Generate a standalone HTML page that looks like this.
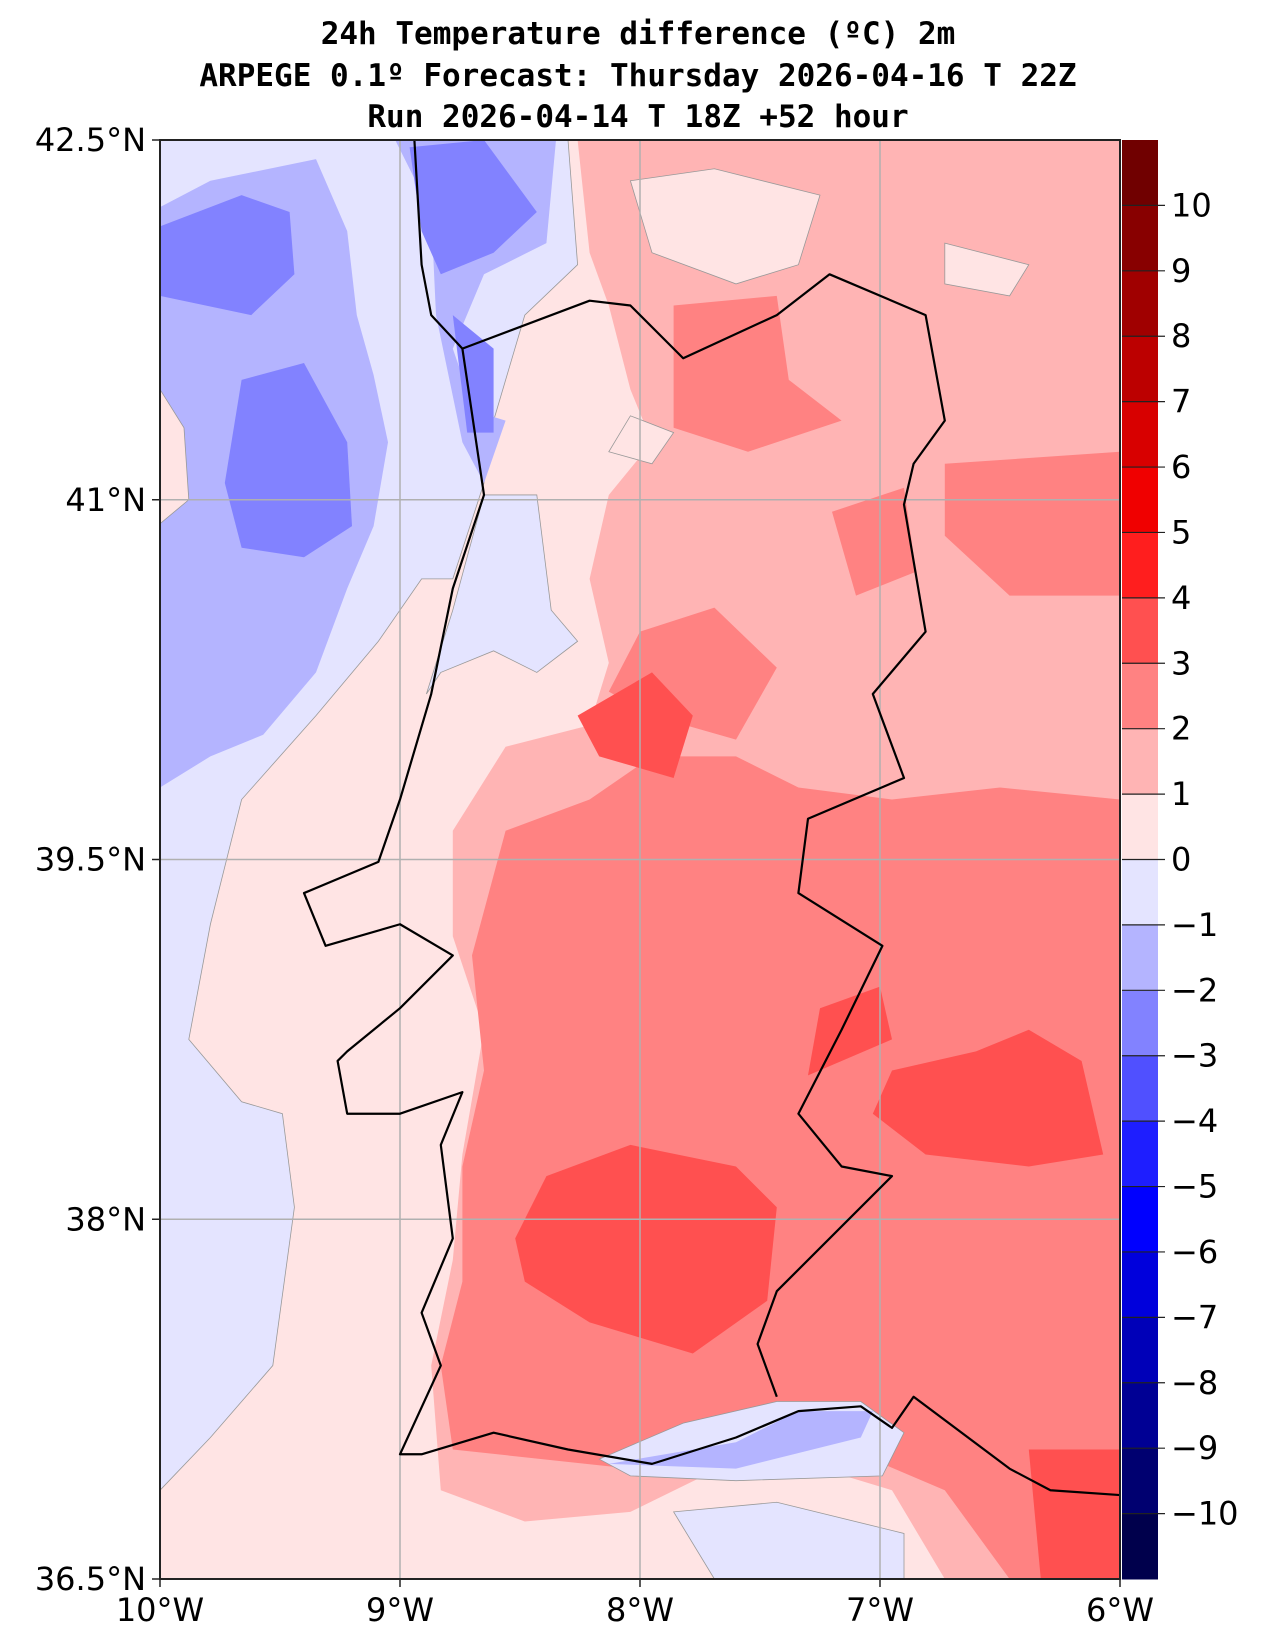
<!DOCTYPE html>
<html><head><meta charset="utf-8"><style>
body{margin:0;background:#fff;}
svg text{font-family:"DejaVu Sans","Liberation Sans",sans-serif;}
</style></head><body>
<svg id="chart" width="1267" height="1646" viewBox="0 0 1267 1646" xmlns="http://www.w3.org/2000/svg">
<g font-weight="bold" font-size="31" text-anchor="middle">
<text x="638" y="44" style="font-family:'DejaVu Sans Mono','Liberation Mono',monospace">24h Temperature difference (ºC) 2m</text>
<text x="638" y="86" style="font-family:'DejaVu Sans Mono','Liberation Mono',monospace">ARPEGE 0.1º Forecast: Thursday 2026-04-16 T 22Z</text>
<text x="638" y="127" style="font-family:'DejaVu Sans Mono','Liberation Mono',monospace">Run 2026-04-14 T 18Z +52 hour</text>
</g>
<defs><clipPath id="mapclip"><rect x="160" y="140" width="960" height="1439"/></clipPath></defs>
<g id="fields" clip-path="url(#mapclip)"></g>
<g id="grid"></g>
<g id="lines" clip-path="url(#mapclip)"></g>
<rect x="160" y="140" width="960" height="1439" fill="none" stroke="#222" stroke-width="2"/>
<g id="axes"></g>
<g id="cbar"></g>
</svg>
<script>
const lonTicks=[-10,-9,-8,-7,-6];
const lonLabels=["10°W","9°W","8°W","7°W","6°W"];
const latTicks=[42.5,41,39.5,38,36.5];
const latLabels=["42.5°N","41°N","39.5°N","38°N","36.5°N"];
const levels=[-11,-10,-9,-8,-7,-6,-5,-4,-3,-2,-1,0,1,2,3,4,5,6,7,8,9,10,11];
const bandColors=["#00004c","#000070","#000094","#0000b8","#0000dc","#0000ff","#1e1eff","#5050ff","#8282ff","#b4b4ff","#e4e4ff","#ffe4e4","#ffb4b4","#ff8282","#ff5050","#ff1e1e","#f00000","#d80000","#bc0000","#a00000","#880000","#700000"];
const cbarTicks=[-10,-9,-8,-7,-6,-5,-4,-3,-2,-1,0,1,2,3,4,5,6,7,8,9,10];
// contour regions: [lower level of band, polygon in lon/lat]
const regionLevels=[0,-1,-1,-2,0,-2,-3,-3,-3,-3,1,0,0,0,2,2,2,2,2,3,3,3,3,3,-1,-2,-1];
const regionShapes=[
[[-10,42.5],[-6,42.5],[-6,36.5],[-10,36.5]],
[[-10,42.5],[-8.30,42.5],[-8.26,41.98],[-8.48,41.77],[-8.61,41.33],[-8.65,41.07],[-8.78,40.67],[-8.91,40.67],[-9.09,40.41],[-9.35,40.1],[-9.66,39.75],[-9.79,39.23],[-9.88,38.75],[-9.66,38.49],[-9.49,38.44],[-9.44,38.05],[-9.53,37.39],[-9.79,37.09],[-10,36.87]],
[[-8.65,41.02],[-8.43,41.02],[-8.37,40.54],[-8.26,40.41],[-8.43,40.28],[-8.61,40.37],[-8.83,40.28],[-8.89,40.19],[-8.78,40.54]],
[[-10,42.22],[-9.79,42.33],[-9.35,42.42],[-9.22,42.12],[-9.18,41.77],[-9.11,41.52],[-9.05,41.24],[-9.11,40.89],[-9.22,40.63],[-9.35,40.28],[-9.57,40.02],[-9.79,39.93],[-10,39.80]],
[[-10,41.46],[-9.9,41.3],[-9.88,41.0],[-10,40.9]],
[[-9.02,42.5],[-8.35,42.5],[-8.39,42.07],[-8.65,41.94],[-8.78,41.63],[-8.69,41.37],[-8.56,41.33],[-8.65,41.07],[-8.74,41.24],[-8.85,41.77],[-8.87,42.2]],
[[-10,42.14],[-9.66,42.27],[-9.46,42.20],[-9.44,41.94],[-9.62,41.77],[-10,41.85]],
[[-9.66,41.50],[-9.40,41.57],[-9.22,41.24],[-9.20,40.89],[-9.40,40.76],[-9.66,40.80],[-9.73,41.07]],
[[-8.96,42.47],[-8.65,42.5],[-8.43,42.20],[-8.61,42.03],[-8.83,41.94],[-8.91,42.12]],
[[-8.78,41.77],[-8.61,41.63],[-8.61,41.28],[-8.72,41.28]],
[[-8.26,42.5],[-6,42.5],[-6,36.5],[-6.73,36.5],[-6.95,36.87],[-7.51,37.04],[-8.04,36.78],[-8.48,36.74],[-8.83,36.87],[-8.87,37.39],[-8.78,37.83],[-8.74,38.27],[-8.65,38.79],[-8.78,39.18],[-8.78,39.62],[-8.56,39.97],[-8.21,40.06],[-8.13,40.32],[-8.21,40.67],[-8.13,41.02],[-7.95,41.24],[-8.04,41.46],[-8.13,41.81],[-8.21,42.03]],
[[-8.04,42.33],[-7.69,42.38],[-7.25,42.27],[-7.34,41.98],[-7.60,41.90],[-7.95,42.03]],
[[-6.73,42.07],[-6.38,41.98],[-6.46,41.85],[-6.73,41.90]],
[[-8.13,41.2],[-7.95,41.15],[-7.86,41.28],[-8.04,41.35]],
[[-8.56,39.62],[-8.21,39.75],[-7.95,39.93],[-7.60,39.93],[-7.34,39.80],[-6.95,39.75],[-6.5,39.8],[-6,39.75],[-6,36.5],[-6.46,36.5],[-6.73,36.87],[-7.34,37.13],[-8.04,36.96],[-8.78,37.04],[-8.83,37.39],[-8.74,37.74],[-8.74,38.22],[-8.65,38.62],[-8.70,39.1]],
[[-7.86,41.81],[-7.43,41.85],[-7.38,41.5],[-7.16,41.33],[-7.55,41.2],[-7.86,41.3]],
[[-6.73,41.15],[-6,41.2],[-6,40.6],[-6.46,40.6],[-6.73,40.85]],
[[-8.0,40.45],[-7.69,40.55],[-7.43,40.3],[-7.6,40.0],[-7.95,40.1],[-8.13,40.2]],
[[-7.2,40.95],[-6.9,41.05],[-6.85,40.7],[-7.1,40.6]],
[[-8.39,38.18],[-8.04,38.31],[-7.60,38.22],[-7.43,38.05],[-7.47,37.66],[-7.78,37.44],[-8.21,37.57],[-8.48,37.74],[-8.52,37.92]],
[[-6.95,38.62],[-6.60,38.70],[-6.38,38.79],[-6.16,38.66],[-6.07,38.27],[-6.38,38.22],[-6.81,38.27],[-7.03,38.44]],
[[-8.26,40.10],[-7.95,40.28],[-7.78,40.10],[-7.86,39.84],[-8.17,39.93]],
[[-6.38,37.04],[-6,37.04],[-6,36.5],[-6.33,36.5]],
[[-7.25,38.88],[-7.0,38.97],[-6.95,38.75],[-7.3,38.6]],
[[-8.17,37.0],[-7.82,37.15],[-7.43,37.24],[-7.08,37.24],[-6.90,37.11],[-6.99,36.93],[-7.60,36.91],[-8.04,36.93]],
[[-8.13,36.98],[-7.60,37.07],[-7.34,37.2],[-7.03,37.2],[-7.08,37.09],[-7.60,36.96]],
[[-7.86,36.78],[-7.43,36.82],[-6.90,36.69],[-6.90,36.5],[-7.69,36.5]]
];
const coast=[[-8.94,42.5],[-8.91,41.98],[-8.87,41.77],[-8.74,41.63],[-8.65,41.02],[-8.78,40.63],[-8.87,40.19],[-9.0,39.75],[-9.09,39.49],[-9.40,39.36],[-9.31,39.14],[-9.0,39.23],[-8.78,39.1],[-9.0,38.88],[-9.22,38.70],[-9.26,38.66],[-9.22,38.44],[-9.0,38.44],[-8.74,38.53],[-8.83,38.31],[-8.78,37.92],[-8.91,37.61],[-8.83,37.39],[-9.0,37.02],[-8.91,37.02],[-8.61,37.11],[-8.30,37.04],[-7.95,36.98],[-7.60,37.09],[-7.34,37.2],[-7.08,37.22],[-6.95,37.13],[-6.86,37.26],[-6.46,36.96],[-6.29,36.87],[-6,36.85]];
const border=[[-8.74,41.63],[-8.21,41.83],[-8.04,41.81],[-7.82,41.59],[-7.43,41.77],[-7.21,41.94],[-6.81,41.77],[-6.73,41.33],[-6.86,41.15],[-6.90,40.98],[-6.81,40.45],[-7.03,40.19],[-6.90,39.84],[-7.30,39.67],[-7.34,39.36],[-6.99,39.14],[-7.16,38.79],[-7.34,38.44],[-7.16,38.22],[-6.95,38.18],[-7.43,37.70],[-7.51,37.48],[-7.43,37.26]];
const X0=160,X1=1120,Y0=140,Y1=1579;
const sx=lon=>X0+(lon+10)/4*(X1-X0);
const sy=lat=>Y0+(42.5-lat)/6*(Y1-Y0);
const NS="http://www.w3.org/2000/svg";
function mk(tag,attrs,parent){const e=document.createElementNS(NS,tag);for(const k in attrs)e.setAttribute(k,attrs[k]);parent.appendChild(e);return e;}
const colorOf=lv=>bandColors[levels.indexOf(lv)];
const fields=document.getElementById('fields');
regionShapes.forEach((pts,i)=>{
 const lv=regionLevels[i];
 const p=mk('polygon',{points:pts.map(q=>sx(q[0])+','+sy(q[1])).join(' '),fill:colorOf(lv),stroke:(lv===0||lv===-1)&&i>0?'#999':'none','stroke-width':0.8},fields);
 
 
});
const lines=document.getElementById('lines');
[coast,border].forEach((arr,i)=>{
 const l=mk('polyline',{points:arr.map(q=>sx(q[0])+','+sy(q[1])).join(' '),fill:'none',stroke:'#000','stroke-width':2.2,'stroke-linejoin':'round'},lines);
 
 
});
const grid=document.getElementById('grid'),axes=document.getElementById('axes');
lonTicks.forEach((v,i)=>{
 const x=sx(v);
 if(i>0&&i<lonTicks.length-1){const g=mk('line',{x1:x,x2:x,y1:Y0,y2:Y1,stroke:'#b0b0b0','stroke-width':1.5},grid);}
 mk('line',{x1:x,x2:x,y1:Y1,y2:Y1+8,stroke:'#222','stroke-width':1.5},axes);
 const t=mk('text',{x:x,y:Y1+42,'font-size':32,'text-anchor':'middle'},axes);t.textContent=lonLabels[i];
 
 
});
latTicks.forEach((v,i)=>{
 const y=sy(v);
 if(i>0&&i<latTicks.length-1){const g=mk('line',{x1:X0,x2:X1,y1:y,y2:y,stroke:'#b0b0b0','stroke-width':1.5},grid);}
 mk('line',{x1:X0-8,x2:X0,y1:y,y2:y,stroke:'#222','stroke-width':1.5},axes);
 const t=mk('text',{x:X0-14,y:y+11,'font-size':32,'text-anchor':'end'},axes);t.textContent=latLabels[i];
 
 
});
const cb=document.getElementById('cbar');
const CX=1122,CW=36;
const cy=v=>Y0+(11-v)/22*(Y1-Y0);
for(let i=0;i<levels.length-1;i++){
 const r=mk('rect',{x:CX,y:cy(levels[i+1]),width:CW,height:cy(levels[i])-cy(levels[i+1])+0.5,fill:bandColors[i]},cb);
 
 
}
cbarTicks.forEach(v=>{
 const y=cy(v);
 mk('line',{x1:CX,x2:CX+CW+7,y1:y,y2:y,stroke:'#222','stroke-width':1.2},cb);
 const t=mk('text',{x:CX+CW+13,y:y+11,'font-size':32},cb);t.textContent=(v<0?'\u2212':'')+Math.abs(v);
 
 
});
</script>
</body></html>
